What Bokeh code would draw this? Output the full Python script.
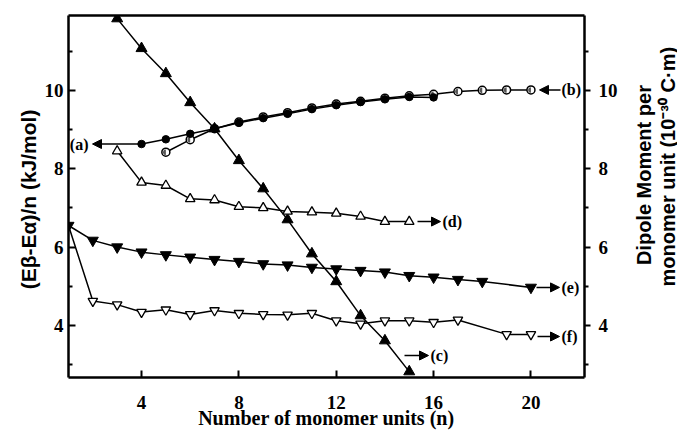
import math
from bokeh.plotting import figure
from bokeh.layouts import row
from bokeh.models import Range1d, LinearAxis, FixedTicker, Label, Arrow, NormalHead
from bokeh.embed import file_html
from bokeh.resources import INLINE

# ---------------- data ----------------
n_a = [4, 5, 6, 7, 8, 9, 10, 11, 12, 13, 14, 15, 16]
y_a = [8.63, 8.75, 8.89, 9.02, 9.17, 9.29, 9.40, 9.52, 9.62, 9.70, 9.77, 9.83, 9.82]

n_b = [5, 6, 7, 8, 9, 10, 11, 12, 13, 14, 15, 16, 17, 18, 19, 20]
y_b = [8.42, 8.74, 9.02, 9.19, 9.32, 9.43, 9.55, 9.65, 9.72, 9.80, 9.86, 9.90, 9.97, 10.00, 10.01, 10.01]

n_c = [3, 4, 5, 6, 7, 8, 9, 10, 11, 12, 13, 14, 15]
y_c = [11.83, 11.07, 10.43, 9.69, 9.02, 8.21, 7.49, 6.70, 5.83, 5.12, 4.25, 3.61, 2.82]

n_d = [3, 4, 5, 6, 7, 8, 9, 10, 11, 12, 13, 14, 15]
y_d = [8.45, 7.65, 7.57, 7.23, 7.20, 7.03, 7.00, 6.91, 6.89, 6.86, 6.78, 6.65, 6.65]

n_e = [1, 2, 3, 4, 5, 6, 7, 8, 9, 10, 11, 12, 13, 14, 15, 16, 17, 18, 20]
y_e = [6.55, 6.17, 6.00, 5.87, 5.80, 5.74, 5.68, 5.63, 5.57, 5.54, 5.48, 5.44, 5.40, 5.36, 5.27, 5.23, 5.17, 5.12, 4.97]

n_f = [1, 2, 3, 4, 5, 6, 7, 8, 9, 10, 11, 12, 13, 14, 15, 16, 17, 19, 20]
y_f = [6.55, 4.62, 4.53, 4.34, 4.40, 4.28, 4.38, 4.31, 4.28, 4.27, 4.31, 4.12, 4.04, 4.12, 4.12, 4.08, 4.14, 3.77, 3.77]

x_ticks = [4, 8, 12, 16, 20]
y_ticks = [4, 6, 8, 10]
y_minor = [3, 5, 7, 9, 11]

curve_labels = ["(a)", "(b)", "(c)", "(d)", "(e)", "(f)"]
x_title = "Number of monomer units (n)"
left_title = "(E\u03b2-E\u03b1)/n  (kJ/mol)"
right_title = ["Dipole Moment per", "monomer unit (10\u207b\u00b3\u2070 C\u00b7m)"]

# ---------------- layout (page pixels) ----------------
W, H = 677, 431
RIGHT_X = 620        # strip holding the right title starts here
L, R, T, B = 68, 584, 15, 377   # plot frame
X0, X1 = 1.0, 22.2
Y0, Y1 = 2.67, 11.91


def dx(px):
    return X0 + (px - L) * (X1 - X0) / (R - L)


def dy(py):
    return Y1 - (py - T) * (Y1 - Y0) / (B - T)


SERIF = "Liberation Serif"
SANS = "Liberation Sans"

p = figure(width=RIGHT_X, height=H, output_backend="svg",
           toolbar_location=None, margin=(0, 0, 0, 0),
           x_range=Range1d(X0, X1), y_range=Range1d(Y0, Y1),
           min_border_left=L, min_border_right=RIGHT_X - R,
           min_border_top=T, min_border_bottom=H - B)
p.extra_y_ranges = {"dipole": Range1d(Y0, Y1)}
p.xgrid.visible = False
p.ygrid.visible = False
p.outline_line_color = None
p.background_fill_color = "white"
p.border_fill_color = "white"

xa = p.xaxis[0]
xa.ticker = FixedTicker(ticks=x_ticks)
xa.major_tick_in = 7
xa.major_tick_out = 0
xa.minor_tick_in = 0
xa.minor_tick_out = 0
xa.axis_line_width = 2.5
xa.major_tick_line_width = 2
xa.major_label_text_font = SERIF
xa.major_label_text_font_style = "bold"
xa.major_label_text_font_size = "19px"
xa.major_label_text_color = "black"
xa.major_label_standoff = 18
xa.axis_label = x_title
xa.axis_label_text_font = SERIF
xa.axis_label_text_font_style = "bold"
xa.axis_label_text_font_size = "20px"
xa.axis_label_text_color = "black"
xa.axis_label_standoff = -5

ya = p.yaxis[0]
ya.ticker = FixedTicker(ticks=y_ticks, minor_ticks=y_minor)
ya.major_tick_in = 7
ya.major_tick_out = 0
ya.minor_tick_in = 4
ya.minor_tick_out = 0
ya.axis_line_width = 2.5
ya.major_tick_line_width = 2
ya.minor_tick_line_width = 2
ya.major_label_text_font = SERIF
ya.major_label_text_font_style = "bold"
ya.major_label_text_font_size = "19px"
ya.major_label_text_color = "black"
ya.major_label_standoff = 5
ya.axis_label = left_title
ya.axis_label_text_font = SANS
ya.axis_label_text_font_style = "bold"
ya.axis_label_text_font_size = "21px"
ya.axis_label_text_color = "black"
ya.axis_label_standoff = 2

ry = LinearAxis(y_range_name="dipole",
                ticker=FixedTicker(ticks=y_ticks, minor_ticks=y_minor))
ry.major_tick_in = 0
ry.major_tick_out = 6
ry.minor_tick_in = 0
ry.minor_tick_out = 4
ry.axis_line_width = 2.5
ry.major_tick_line_width = 2
ry.minor_tick_line_width = 2
ry.major_label_text_font = SERIF
ry.major_label_text_font_style = "bold"
ry.major_label_text_font_size = "19px"
ry.major_label_text_color = "black"
ry.major_label_standoff = 8
p.add_layout(ry, "right")

top = LinearAxis(ticker=FixedTicker(ticks=[]))
top.axis_line_width = 2.5
top.major_tick_in = 0
top.major_tick_out = 0
top.minor_tick_in = 0
top.minor_tick_out = 0
top.major_label_text_font_size = "0px"
top.major_label_standoff = 0
p.add_layout(top, "above")

# ---------------- series ----------------
LW = 1.5
p.line(n_b, y_b, line_color="black", line_width=LW)
p.line(n_a, y_a, line_color="black", line_width=LW)
p.line(n_c, y_c, line_color="black", line_width=LW, y_range_name="dipole")
p.line(n_d, y_d, line_color="black", line_width=LW, y_range_name="dipole")
p.line(n_e, y_e, line_color="black", line_width=LW, y_range_name="dipole")
p.line(n_f, y_f, line_color="black", line_width=LW, y_range_name="dipole")

# (b) half-filled circles
p.scatter(n_b, y_b, marker="circle", size=8, fill_color="white",
          line_color="black", line_width=1.5)
p.wedge(n_b, y_b, radius=2.8, radius_units="screen", start_angle=math.pi / 2,
        end_angle=3 * math.pi / 2, fill_color="#555555", line_color=None)
# (a) filled circles
p.scatter(n_a, y_a, marker="circle", size=7.5, fill_color="black", line_color="black")
# (c) filled up triangles
p.scatter(n_c, y_c, marker="triangle", size=11, fill_color="black",
          line_color="black", y_range_name="dipole")
# (d) open up triangles
p.scatter(n_d, y_d, marker="triangle", size=9.5, fill_color="white",
          line_color="black", line_width=1.3, y_range_name="dipole")
# (f) open down triangles
p.scatter(n_f[1:], y_f[1:], marker="inverted_triangle", size=9.5, fill_color="white",
          line_color="black", line_width=1.3, y_range_name="dipole")
# (e) filled down triangles
p.scatter(n_e, y_e, marker="inverted_triangle", size=11, fill_color="black",
          line_color="black", y_range_name="dipole")

# ---------------- curve tags with arrows ----------------
arrow_specs = [
    (n_a[0] - 0.05, y_a[0], dx(92), y_a[0], dx(88), "right"),
    (dx(560), y_b[-1], dx(539), y_b[-1], dx(561), "left"),
    (dx(404), dy(355), dx(428), dy(355), dx(430), "left"),
    (dx(417), y_d[-1], dx(440), y_d[-1], dx(442), "left"),
    (dx(536), y_e[-1], dx(559), y_e[-1], dx(561), "left"),
    (dx(537), dy(336), dx(559), dy(336), dx(561), "left"),
]
for (xs, ys, xe, ye, xl, al), lab in zip(arrow_specs, curve_labels):
    p.add_layout(Arrow(end=NormalHead(size=9, fill_color="black", line_color="black",
                                      line_width=1),
                       x_start=xs, y_start=ys, x_end=xe, y_end=ye,
                       line_color="black", line_width=1.5))
    p.add_layout(Label(x=xl, y=ye, text=lab, text_font=SERIF, text_font_style="bold",
                       text_font_size="16px", text_align=al, text_baseline="middle",
                       text_color="black"))

# ---------------- right title strip (reads bottom to top) ----------------
rf = figure(width=W - RIGHT_X, height=H, output_backend="svg", toolbar_location=None,
            margin=(0, 0, 0, 0),
            x_range=Range1d(0, W - RIGHT_X), y_range=Range1d(H, 0), min_border=0,
            x_axis_location=None, y_axis_location=None)
rf.xgrid.visible = False
rf.ygrid.visible = False
rf.outline_line_color = None
rf.background_fill_color = "white"
rf.border_fill_color = "white"
for bx, cy, txt in [(643 - RIGHT_X, 190, right_title[0]), (667 - RIGHT_X, 180, right_title[1])]:
    rf.add_layout(Label(x=bx, y=cy, text=txt, text_font=SANS, text_font_style="bold",
                        text_font_size="20px", angle=math.pi / 2, text_align="center",
                        text_baseline="alphabetic", text_color="black"))

layout = row(p, rf, spacing=0, margin=(0, 0, 0, 0))
open("out.html", "w").write(file_html(layout, INLINE))
